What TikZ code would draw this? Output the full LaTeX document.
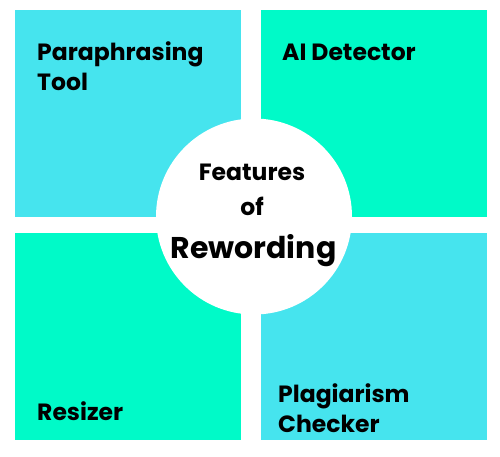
\documentclass[tikz,border=0pt]{standalone}
\usepackage{fontspec}
\setmainfont{Poppins}
\definecolor{cyanbox}{RGB}{70,228,238}
\definecolor{greenbox}{RGB}{0,250,200}
\begin{document}
\begin{tikzpicture}[x=1pt,y=-1pt,
  lbl/.style={font=\fontsize{23.5}{30}\selectfont\bfseries, anchor=base west, align=left, inner sep=0pt},
  ctr/.style={font=\fontsize{23.5}{30}\selectfont\bfseries, anchor=base, inner sep=0pt}]
\useasboundingbox[fill=white] (0,0) rectangle (500,456);
\fill[cyanbox] (15,10) rectangle (241,217);
\fill[greenbox] (261,10) rectangle (487,217);
\fill[greenbox] (15,233) rectangle (241,440);
\fill[cyanbox] (261,233) rectangle (487,440);
\node[circle, fill=white, minimum size=196pt, inner sep=0pt] (hub) at (254,216.5) {};
\node[lbl] (para) at (37,90) {Paraphrasing\\Tool};
\node[lbl] (ai) at (282,60) {AI Detector};
\node[lbl] (res) at (37,420.5) {Resizer};
\node[lbl] (plag) at (278,432.5) {Plagiarism\\Checker};
\node[ctr] (f1) at (252,180) {Features};
\node[ctr] (f2) at (252,215) {of};
\node[ctr, font=\fontsize{30}{36}\selectfont\bfseries] (f3) at (253.5,258) {Rewording};
\end{tikzpicture}
\end{document}
